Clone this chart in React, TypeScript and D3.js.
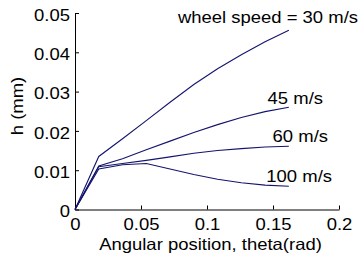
import React, { useRef, useEffect } from "react";
import * as d3 from "d3";

// angular position theta (rad)
const theta = [0, 0.018, 0.036, 0.054, 0.072, 0.09, 0.108, 0.126, 0.144, 0.162];

// h (mm) for each wheel speed
const h30 = [0, 0.0135, 0.018, 0.0226, 0.0273, 0.0318, 0.0358, 0.0394, 0.0427, 0.0456];
const h45 = [0, 0.0111, 0.0129, 0.0152, 0.0174, 0.0196, 0.0216, 0.0234, 0.0249, 0.026];
const h60 = [0, 0.0109, 0.0117, 0.0125, 0.0134, 0.0143, 0.015, 0.0155, 0.0159, 0.0161];
const h100 = [0, 0.0103, 0.0114, 0.0117, 0.0103, 0.0089, 0.0077, 0.0068, 0.0062, 0.0059];

const seriesLabels = ["wheel speed = 30 m/s", "45 m/s", "60 m/s", "100 m/s"];

const xTicks = [0, 0.05, 0.1, 0.15, 0.2];
const yTicks = [0, 0.01, 0.02, 0.03, 0.04, 0.05];

const W = 361;
const H = 260;
const font = "'Liberation Sans', Arial, sans-serif";
const fs = "16.5px";
const sx = 1.12; // text runs a bit wide in the original

export default function App() {
  const svgRef = useRef<SVGSVGElement>(null);

  useEffect(() => {
    const svg = d3.select(svgRef.current);
    svg.selectAll("*").remove();

    const x = d3.scaleLinear().domain([0, 0.2]).range([75, 339]);
    const y = d3.scaleLinear().domain([0, 0.05]).range([209.5, 13]);

    // x axis, ticks pointing in
    const gx = svg.append("g").attr("transform", `translate(0,${y(0)})`);
    gx.call(d3.axisBottom(x).tickValues(xTicks).tickSizeInner(-4).tickSizeOuter(0).tickPadding(9)
      .tickFormat((d) => String(+d)));
    // y axis
    const gy = svg.append("g").attr("transform", `translate(${x(0)},0)`);
    gy.call(d3.axisLeft(y).tickValues(yTicks).tickSizeInner(-4).tickSizeOuter(0).tickPadding(5)
      .tickFormat((d) => String(+d)));

    [gx, gy].forEach((g) => {
      g.select(".domain").attr("stroke", "#000");
      g.selectAll(".tick line").attr("stroke", "#000");
      g.selectAll(".tick text").attr("fill", "#000").style("font-family", font).style("font-size", fs)
        .attr("transform", `scale(${sx},1)`);
    });
    gx.selectAll(".tick text").attr("dy", "0.71em").attr("y", 8.5);
    gy.selectAll(".tick text").attr("dy", "0.43em").attr("x", -5 / sx);

    const line = d3.line<number>()
      .x((_, i) => x(theta[i]))
      .y((v) => y(v));

    const all = [h30, h45, h60, h100];
    svg.selectAll(".curve")
      .data(all)
      .join("path")
      .attr("class", "curve")
      .attr("d", (d) => line(d))
      .attr("fill", "none")
      .attr("stroke", "#14146e")
      .attr("stroke-width", 1.1);

    // labels near line ends (right edge, baseline)
    const labelPos = [
      { x: 358, y: 23 },
      { x: 323, y: 104 },
      { x: 328, y: 142 },
      { x: 332, y: 182 },
    ];
    svg.selectAll(".lab")
      .data(seriesLabels)
      .join("text")
      .attr("class", "lab")
      .attr("transform", (_, i) => `translate(${labelPos[i].x},${labelPos[i].y}) scale(${sx},1)`)
      .attr("text-anchor", "end")
      .style("font-family", font)
      .style("font-size", fs)
      .attr("fill", "#000")
      .text((d) => d);

    svg.append("text")
      .attr("transform", `translate(210.5,249.5) scale(${sx},1)`)
      .attr("text-anchor", "middle")
      .style("font-family", font)
      .style("font-size", fs)
      .text("Angular position, theta(rad)");

    svg.append("text")
      .attr("transform", `translate(23,106) rotate(-90) scale(${sx},1)`)
      .attr("text-anchor", "middle")
      .style("font-family", font)
      .style("font-size", fs)
      .text("h (mm)");
  }, []);

  return (
    <svg
      ref={svgRef}
      width={W}
      height={H}
      style={{ position: "absolute", left: 0, top: 0, background: "#fff" }}
    />
  );
}
